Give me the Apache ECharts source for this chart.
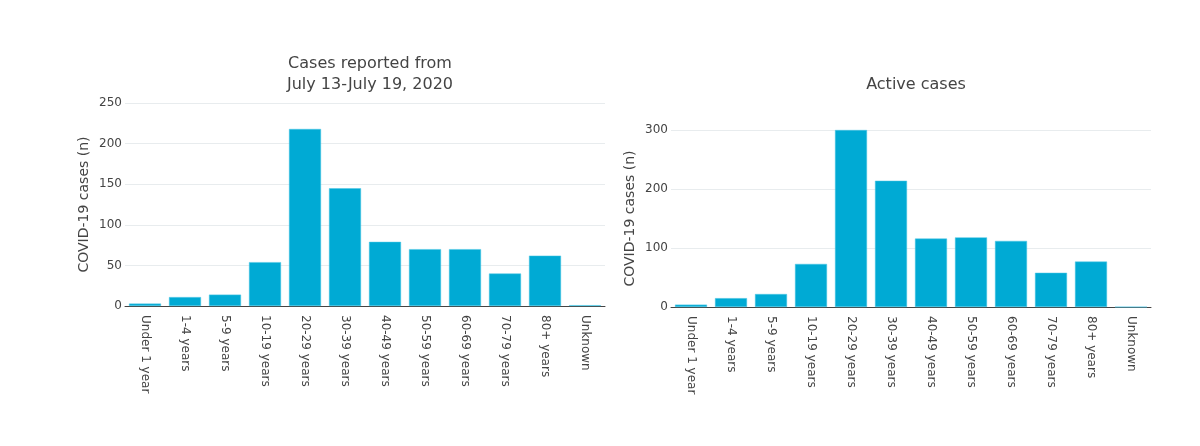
<!DOCTYPE html>
<html>
<head>
<meta charset="utf-8">
<script src="https://cdn.jsdelivr.net/npm/echarts@6/dist/echarts.min.js"></script>
<style>html,body{margin:0;padding:0;background:#fff}#c{width:1200px;height:446px}</style>
</head>
<body>
<div id="c"></div>
<script>
const categories = ["Under 1 year","1-4 years","5-9 years","10-19 years","20-29 years","30-39 years","40-49 years","50-59 years","60-69 years","70-79 years","80+ years","Unknown"];
const weeklyCases = [3, 11, 14, 54, 218, 145, 79, 70, 70, 40, 62, 1];
const activeCases = [4, 15, 22, 73, 300, 214, 116, 118, 112, 58, 77, 0];
const leftTitle = "Cases reported from\nJuly 13-July 19, 2020";
const rightTitle = "Active cases";
const yName = "COVID-19 cases (n)";

const FONT = "DejaVu Sans";
const TXT = "#444";
const BAR = "#00aad4";

function xAxis(gi){
  return {
    type: 'category', gridIndex: gi, data: categories,
    axisLine: {lineStyle: {color: '#444', width: 1}},
    axisTick: {show: false},
    axisLabel: {rotate: -90, color: TXT, fontFamily: FONT, fontSize: 12, interval: 0, margin: 9}
  };
}
function yAxis(gi, max, interval){
  return {
    type: 'value', gridIndex: gi, min: 0, max: max, interval: interval,
    name: yName, nameLocation: 'middle', nameGap: 34,
    nameTextStyle: {color: TXT, fontFamily: FONT, fontSize: 14},
    axisLine: {show: false}, axisTick: {show: false},
    axisLabel: {color: TXT, fontFamily: FONT, fontSize: 12, margin: 3},
    splitLine: {lineStyle: {color: '#e8ecee', width: 1}}
  };
}
const chart = echarts.init(document.getElementById('c'), null, {renderer: 'canvas'});
chart.setOption({
  animation: false,
  backgroundColor: '#fff',
  title: [
    {text: leftTitle, left: 365, top: 48, textAlign: 'center',
     textStyle: {color: TXT, fontFamily: FONT, fontSize: 16, fontWeight: 'normal', lineHeight: 21}},
    {text: rightTitle, left: 911, top: 72, textAlign: 'center',
     textStyle: {color: TXT, fontFamily: FONT, fontSize: 16, fontWeight: 'normal'}}
  ],
  grid: [
    {left: 125, right: 595, top: 103, bottom: 140},
    {left: 671, right: 49, top: 130, bottom: 139}
  ],
  xAxis: [xAxis(0), xAxis(1)],
  yAxis: [yAxis(0, 250, 50), yAxis(1, 300, 100)],
  series: [
    {type: 'bar', xAxisIndex: 0, yAxisIndex: 0, data: weeklyCases, barCategoryGap: '20%',
     itemStyle: {color: BAR, borderColor: '#4cc6e4', borderWidth: 0.5}},
    {type: 'bar', xAxisIndex: 1, yAxisIndex: 1, data: activeCases, barCategoryGap: '20%',
     itemStyle: {color: BAR, borderColor: '#4cc6e4', borderWidth: 0.5}}
  ]
});
</script>
</body>
</html>
